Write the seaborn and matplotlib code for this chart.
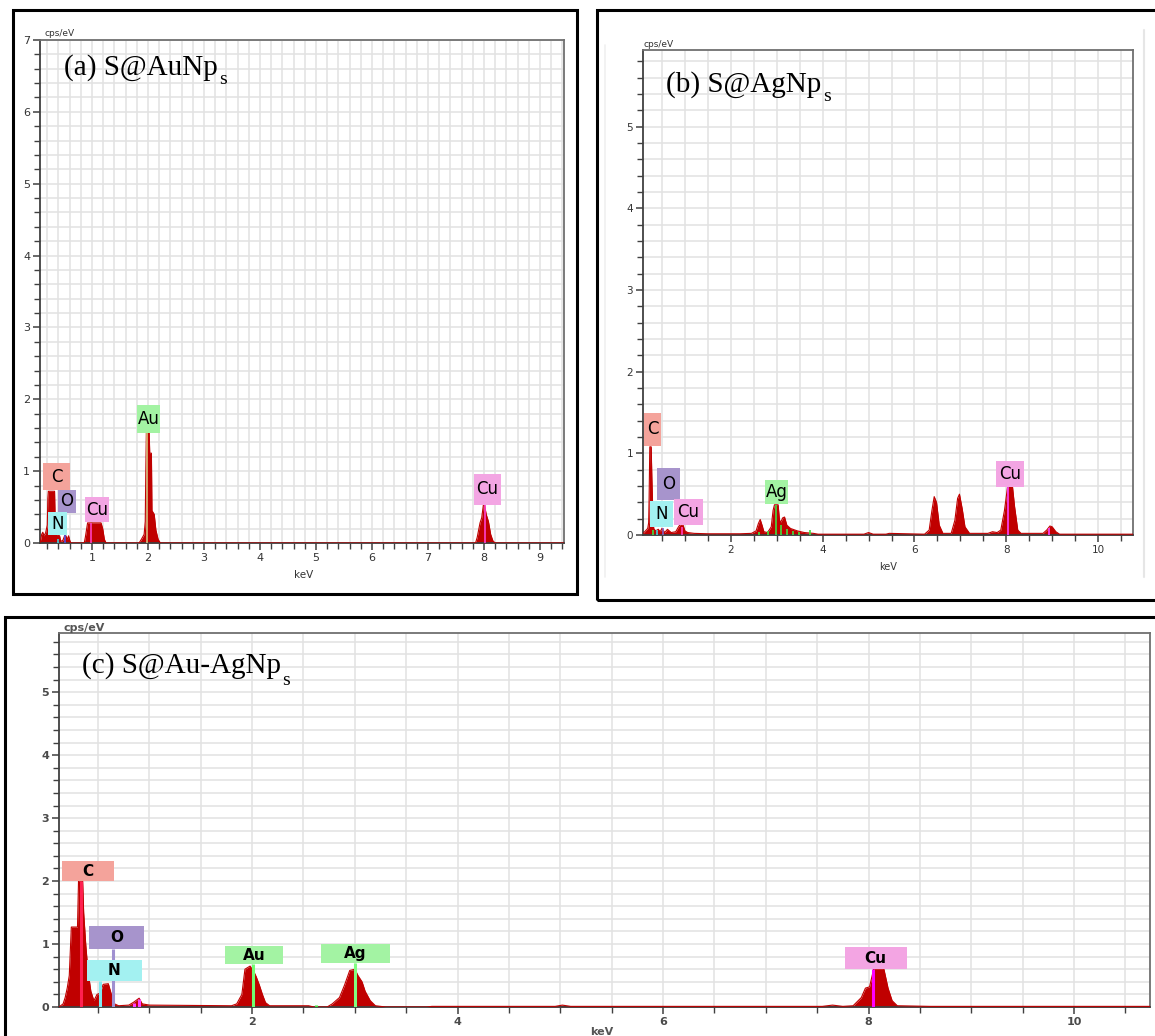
import matplotlib
matplotlib.use("Agg")
import matplotlib.pyplot as plt
import seaborn as sns
from matplotlib.ticker import MultipleLocator
from matplotlib.patches import Rectangle

# ---------------- data ----------------
# (a) S@AuNps
energy_a = [0.07, 0.10, 0.12, 0.14, 0.17, 0.20, 0.21, 0.22, 0.33, 0.34, 0.36, 0.42, 0.44, 0.48,
            0.52, 0.56, 0.58, 0.60, 0.62, 0.86, 0.88, 0.92, 0.95, 1.16, 1.19, 1.22, 1.25, 1.84,
            1.88, 1.93, 1.95, 1.96, 1.97, 2.02, 2.03, 2.06, 2.07, 2.11, 2.14, 2.18, 2.22, 7.85,
            7.88, 7.93, 7.96, 7.99, 8.01, 8.04, 8.08, 8.12, 8.16, 8.20, 9.43]
counts_a = [0.0, 0.12, 0.15, 0.10, 0.14, 0.25, 0.62, 0.72, 0.72, 0.35, 0.12, 0.10, 0.02, 0.04,
            0.12, 0.05, 0.10, 0.04, 0.0, 0.0, 0.08, 0.28, 0.28, 0.28, 0.20, 0.05, 0.0, 0.0,
            0.05, 0.12, 0.30, 1.0, 1.55, 1.55, 1.25, 1.25, 0.45, 0.40, 0.18, 0.05, 0.0, 0.0,
            0.08, 0.28, 0.35, 0.53, 0.53, 0.40, 0.30, 0.12, 0.03, 0.0, 0.0]
marks_a_E = [0.39, 0.52, 0.98, 1.99, 8.01]
marks_a_h = [0.06, 0.12, 0.28, 1.55, 0.53]
labels_a = ["C", "O", "N", "Cu", "Au", "Cu"]

# (b) S@AgNps
energy_b = [0.09, 0.14, 0.19, 0.21, 0.22, 0.235, 0.265, 0.28, 0.30, 0.32, 0.36, 0.42, 0.46, 0.50,
            0.56, 0.62, 0.70, 0.80, 0.86, 0.90, 0.96, 1.00, 1.06, 1.20, 1.50, 2.20, 2.45, 2.55,
            2.60, 2.64, 2.68, 2.72, 2.80, 2.88, 2.92, 2.95, 3.03, 3.06, 3.09, 3.13, 3.17, 3.22,
            3.30, 3.45, 3.60, 3.80, 3.90, 4.90, 5.00, 5.10, 5.38, 5.45, 6.22, 6.32, 6.38, 6.43,
            6.48, 6.54, 6.62, 6.80, 6.88, 6.94, 6.98, 7.04, 7.10, 7.20, 7.60, 7.70, 7.80, 7.88,
            7.96, 8.03, 8.13, 8.18, 8.25, 8.32, 8.80, 8.88, 8.95, 9.00, 9.08, 9.16, 10.76]
counts_b = [0.02, 0.05, 0.08, 0.15, 0.45, 1.08, 1.08, 0.70, 0.30, 0.08, 0.05, 0.07, 0.04, 0.08,
            0.03, 0.07, 0.03, 0.04, 0.10, 0.13, 0.12, 0.05, 0.03, 0.02, 0.015, 0.015, 0.02, 0.05,
            0.14, 0.19, 0.12, 0.04, 0.03, 0.10, 0.30, 0.37, 0.37, 0.18, 0.16, 0.21, 0.22, 0.12,
            0.08, 0.05, 0.03, 0.02, 0.01, 0.01, 0.03, 0.01, 0.01, 0.02, 0.01, 0.06, 0.30, 0.47,
            0.40, 0.12, 0.02, 0.02, 0.18, 0.45, 0.50, 0.32, 0.10, 0.02, 0.02, 0.04, 0.03, 0.06,
            0.30, 0.60, 0.62, 0.35, 0.06, 0.02, 0.02, 0.06, 0.11, 0.10, 0.04, 0.01, 0.01]
marks_b_E = [0.30, 0.39, 0.52, 0.93, 2.62, 2.80, 2.98, 3.10, 3.22, 3.35, 3.48, 3.72, 8.04, 8.93]
marks_b_h = [0.06, 0.06, 0.08, 0.10, 0.04, 0.05, 0.37, 0.12, 0.07, 0.05, 0.04, 0.06, 0.60, 0.08]
labels_b = ["C", "O", "N", "Cu", "Ag", "Cu"]

# (c) S@Au-AgNps
energy_c = [0.12, 0.16, 0.18, 0.20, 0.22, 0.24, 0.30, 0.31, 0.35, 0.36, 0.38, 0.40, 0.43, 0.46,
            0.49, 0.52, 0.55, 0.60, 0.63, 0.66, 0.70, 0.80, 0.85, 0.90, 0.93, 1.00, 1.80, 1.85,
            1.90, 1.93, 1.98, 2.02, 2.04, 2.07, 2.10, 2.13, 2.17, 2.55, 2.60, 2.73, 2.78, 2.85,
            2.90, 2.95, 3.00, 3.03, 3.07, 3.10, 3.15, 3.20, 3.30, 3.70, 3.75, 4.95, 5.02, 5.10,
            7.55, 7.65, 7.75, 7.85, 7.93, 7.97, 8.01, 8.05, 8.15, 8.19, 8.23, 8.28, 8.60, 9.40,
            10.74]
counts_c = [0.0, 0.05, 0.15, 0.30, 0.50, 1.27, 1.27, 2.0, 2.0, 1.5, 1.0, 0.6, 0.25, 0.10,
            0.20, 0.22, 0.36, 0.37, 0.20, 0.05, 0.02, 0.03, 0.08, 0.14, 0.05, 0.03, 0.02, 0.05,
            0.20, 0.60, 0.65, 0.55, 0.48, 0.35, 0.20, 0.07, 0.02, 0.02, 0.0, 0.0, 0.05, 0.15,
            0.35, 0.58, 0.60, 0.50, 0.40, 0.25, 0.10, 0.02, 0.0, 0.0, 0.01, 0.01, 0.03, 0.01,
            0.01, 0.03, 0.01, 0.02, 0.15, 0.30, 0.32, 0.60, 0.60, 0.30, 0.10, 0.02, 0.01, 0.01,
            0.01]
marks_c_E = [0.33, 0.52, 0.65, 0.85, 0.90, 2.01, 2.62, 3.00, 8.04]
marks_c_h = [2.0, 0.41, 0.92, 0.06, 0.12, 0.68, 0.03, 0.70, 0.60]
labels_c = ["C", "O", "N", "Au", "Ag", "Cu"]

titles = ["(a) S@AuNp", "(b) S@AgNp", "(c) S@Au-AgNp"]
title_sub = "s"

assert len(energy_a) == len(counts_a)
assert len(energy_b) == len(counts_b)
assert len(energy_c) == len(counts_c)

# ---------------- style / layout ----------------
W, H = 1155, 1036
SPEC = "#c00000"
BOX = {"C": "#f4a39b", "O": "#a794cc", "N": "#a3f1f1", "Cu": "#f3a5e3",
       "Au": "#a3f3a3", "Ag": "#a3f3a3"}

mark_col_a = ["#40d0e0", "#5050e0", "#ff40c0", "#d8c080", "#ff40d0"]
mark_col_b = ["#40e040", "#40d0e0", "#8060c0", "#ff40c0", "#40e040", "#40e040", "#40e040",
              "#40e040", "#40e040", "#40e040", "#40e040", "#40e040", "#ff40ff", "#ff40ff"]
mark_col_c = ["#ff2050", "#80e8f0", "#a090d0", "#ff40ff", "#ff40ff", "#70ff70", "#40e040",
              "#80ff80", "#ff00ff"]

boxes_a = [(0.125, 0.607, 0.74, 1.11), (0.39, 0.71, 0.42, 0.74), (0.21, 0.55, 0.11, 0.43),
           (0.875, 1.30, 0.29, 0.64), (1.80, 2.21, 1.53, 1.92), (7.82, 8.30, 0.53, 0.96)]
boxes_b = [(0.11, 0.48, 1.09, 1.50), (0.39, 0.89, 0.43, 0.82), (0.24, 0.74, 0.10, 0.42),
           (0.76, 1.39, 0.12, 0.44), (2.75, 3.25, 0.38, 0.67), (7.78, 8.39, 0.59, 0.91)]
boxes_c = [(0.15, 0.66, 2.0, 2.32), (0.41, 0.95, 0.92, 1.29), (0.39, 0.93, 0.41, 0.75),
           (1.74, 2.30, 0.68, 0.97), (2.67, 3.34, 0.70, 1.0), (7.77, 8.37, 0.60, 0.95)]

sns.set_style("white")
plt.rcParams["font.family"] = ["DejaVu Sans"]

SANS = ["DejaVu Sans"]

fig = plt.figure(figsize=(W / 100, H / 100), dpi=100)


def fx(px):
    return px / W


def fy(py):
    return 1 - py / H


def rect(l, t, r, b):
    return [l / W, 1 - b / H, (r - l) / W, (b - t) / H]


# outer frames
for (l, t, r, b) in [(13, 10, 577, 594), (597, 10, 1170, 600), (5, 617, 1170, 1050)]:
    fig.patches.append(Rectangle((fx(l), fy(b)), fx(r - l), (b - t) / H,
                                 transform=fig.transFigure, fill=False,
                                 ec="black", lw=2.2, zorder=10))
# faint vertical lines of the pasted image in (b)
fig.add_artist(plt.Line2D([fx(1144), fx(1144)], [fy(30), fy(577)], color="#e6e6e6", lw=1.5))
fig.add_artist(plt.Line2D([fx(605), fx(605)], [fy(45), fy(577)], color="#f0f0f0", lw=1.2))


def panel(box, E, C, xlim, ylim, xmaj, xmin_, mE, mh, mcol, mlw, labels, lboxes,
          lsize, lweight, tsize, tweight, tcolor):
    ax = fig.add_axes(rect(*box))
    ax.fill_between(E, 0, C, color=SPEC, lw=0, zorder=2)
    sns.lineplot(x=E, y=C, ax=ax, color=SPEC, lw=0.8, sort=False, estimator=None, zorder=3)
    ax.vlines(mE, 0, mh, colors=mcol, lw=mlw, zorder=4)
    ax.set_xlim(*xlim)
    ax.set_ylim(*ylim)
    ax.xaxis.set_major_locator(MultipleLocator(xmaj))
    ax.xaxis.set_minor_locator(MultipleLocator(xmin_))
    ax.yaxis.set_major_locator(MultipleLocator(1))
    ax.yaxis.set_minor_locator(MultipleLocator(0.2))
    ax.grid(True, which="both", color="#e2e2e2", lw=1.1, zorder=0)
    ax.set_axisbelow(True)
    ax.tick_params(which="major", direction="out", length=5, width=1.1, color="#404040",
                   labelsize=tsize, labelcolor=tcolor, pad=2, bottom=True, left=True)
    ax.tick_params(which="minor", direction="out", length=4, width=1.0, color="#404040",
                   bottom=True, left=True)
    for lab in ax.get_xticklabels() + ax.get_yticklabels():
        lab.set_fontweight(tweight)
    for s in ["left", "bottom"]:
        ax.spines[s].set_color("#404040")
        ax.spines[s].set_linewidth(1.3)
    for s in ["top", "right"]:
        ax.spines[s].set_color("#707070")
        ax.spines[s].set_linewidth(1.3)
    ax.set_xlabel("")
    ax.set_ylabel("")
    for name, (x0, x1, y0, y1) in zip(labels, lboxes):
        ax.add_patch(Rectangle((x0, y0), x1 - x0, y1 - y0, fc=BOX[name], ec="none", zorder=5))
        ax.text((x0 + x1) / 2, (y0 + y1) / 2, name, ha="center", va="center",
                fontsize=lsize, family=SANS, fontweight=lweight, color="black", zorder=6)
    return ax


# (a)
panel((40, 40, 564, 543), energy_a, counts_a, (0.07, 9.43), (0, 7), 1, 0.2,
      marks_a_E, marks_a_h, mark_col_a, 1.2, labels_a, boxes_a,
      12, "normal", 8, "normal", "#333333")
# (b)
panel((643, 50, 1133, 535), energy_b, counts_b, (0.087, 10.76), (0, 5.94), 2, 0.5,
      marks_b_E, marks_b_h, mark_col_b, 1.2, labels_b, boxes_b,
      12, "normal", 7.5, "normal", "#333333")
# (c)
panel((59, 633, 1150, 1007), energy_c, counts_c, (0.12, 10.74), (0, 5.94), 2, 0.5,
      marks_c_E, marks_c_h, mark_col_c, 2.2, labels_c, boxes_c,
      11, "bold", 8, "bold", "#4a4a4a")

# axis captions
fig.text(fx(44), fy(36), "cps/eV", fontsize=6.5, color="#333333", va="baseline")
fig.text(fx(304), fy(578), "keV", fontsize=7.5, color="#333333", ha="center", va="baseline")
fig.text(fx(644), fy(47), "cps/eV", fontsize=6.5, color="#333333", va="baseline")
fig.text(fx(888), fy(570), "keV", fontsize=7, color="#333333", ha="center", va="baseline")
fig.text(fx(64), fy(631), "cps/eV", fontsize=8, fontweight="bold", color="#555555",
         va="baseline")
fig.text(fx(602), fy(1035), "keV", fontsize=8, fontweight="bold", color="#555555",
         ha="center", va="baseline")

# panel titles (main text + lowered subscript)
title_pos = [(64, 75), (666, 92), (82, 673)]
sub_pos = [(219, 84), (823, 101), (282, 685)]
for (px, py), (sx, sy), t in zip(title_pos, sub_pos, titles):
    fig.text(fx(px), fy(py), t, fontsize=21, family="Liberation Serif",
             color="black", va="baseline", ha="left")
    fig.text(fx(sx), fy(sy), title_sub, fontsize=14, family="Liberation Serif",
             color="black", va="baseline", ha="left")

fig.savefig("out.png", dpi=100)
